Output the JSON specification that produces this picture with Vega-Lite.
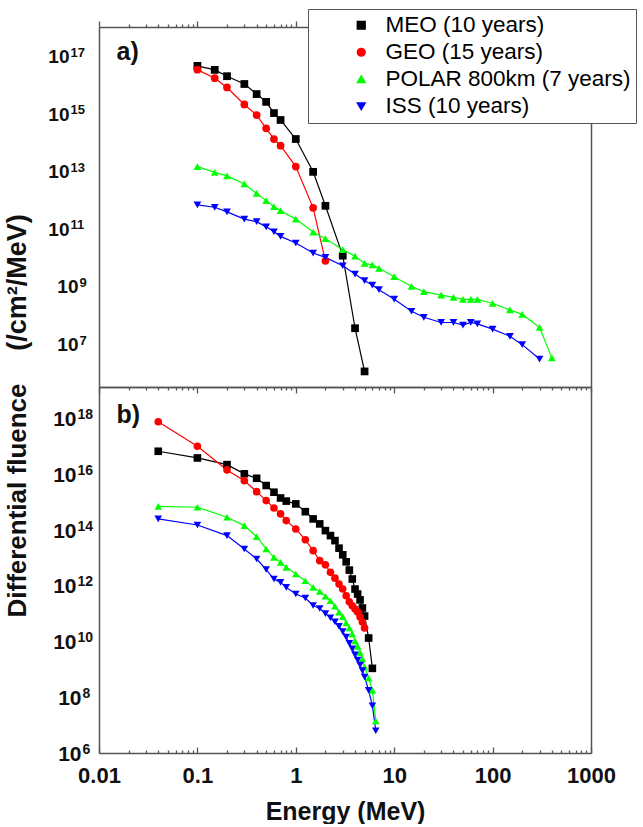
{
  "$schema": "https://vega.github.io/schema/vega-lite/v6.json",
  "background": "white",
  "padding": {"left": 3, "top": 8, "right": 0, "bottom": 0},
  "bounds": "flush",
  "spacing": 0,
  "resolve": {"scale": {"color": "independent", "shape": "independent"}, "legend": {"color": "independent", "shape": "independent"}},
  "config": {"view": {"stroke": null}, "font": "Liberation Sans"},
  "datasets": {
    "a": [
      {"s": "MEO", "E": 0.1, "F": 3.31e16}, {"s": "MEO", "E": 0.15, "F": 2.4e16}, {"s": "MEO", "E": 0.2, "F": 1.45e16}, {"s": "MEO", "E": 0.3, "F": 7.76e15}, {"s": "MEO", "E": 0.4, "F": 3.47e15}, {"s": "MEO", "E": 0.5, "F": 1.86e15}, {"s": "MEO", "E": 0.6, "F": 7.59e14}, {"s": "MEO", "E": 0.7, "F": 4.37e14}, {"s": "MEO", "E": 1, "F": 9.55e13}, {"s": "MEO", "E": 1.5, "F": 6.92e12}, {"s": "MEO", "E": 2, "F": 4.57e11}, {"s": "MEO", "E": 3, "F": 8.51e9}, {"s": "MEO", "E": 4, "F": 2.57e7}, {"s": "MEO", "E": 5, "F": 8.13e5},
      {"s": "GEO", "E": 0.1, "F": 2.45e16}, {"s": "GEO", "E": 0.15, "F": 1.23e16}, {"s": "GEO", "E": 0.2, "F": 5.89e15}, {"s": "GEO", "E": 0.3, "F": 1.51e15}, {"s": "GEO", "E": 0.4, "F": 6.46e14}, {"s": "GEO", "E": 0.5, "F": 2.24e14}, {"s": "GEO", "E": 0.6, "F": 9.55e13}, {"s": "GEO", "E": 0.7, "F": 5.62e13}, {"s": "GEO", "E": 1, "F": 1.05e13}, {"s": "GEO", "E": 1.5, "F": 3.89e11}, {"s": "GEO", "E": 2, "F": 5.62e9},
      {"s": "POLAR", "E": 0.1, "F": 1.05e13}, {"s": "POLAR", "E": 0.15, "F": 6.61e12}, {"s": "POLAR", "E": 0.2, "F": 5.01e12}, {"s": "POLAR", "E": 0.3, "F": 2.63e12}, {"s": "POLAR", "E": 0.4, "F": 1.23e12}, {"s": "POLAR", "E": 0.5, "F": 6.92e11}, {"s": "POLAR", "E": 0.6, "F": 4.27e11}, {"s": "POLAR", "E": 0.7, "F": 3.09e11}, {"s": "POLAR", "E": 1, "F": 1.58e11}, {"s": "POLAR", "E": 1.5, "F": 5.62e10}, {"s": "POLAR", "E": 2, "F": 3.31e10}, {"s": "POLAR", "E": 3, "F": 1.38e10}, {"s": "POLAR", "E": 4, "F": 8.13e9}, {"s": "POLAR", "E": 5, "F": 4.57e9}, {"s": "POLAR", "E": 6, "F": 4.07e9}, {"s": "POLAR", "E": 7, "F": 3.09e9}, {"s": "POLAR", "E": 10, "F": 1.58e9}, {"s": "POLAR", "E": 15, "F": 7.24e8}, {"s": "POLAR", "E": 20, "F": 4.79e8}, {"s": "POLAR", "E": 30, "F": 3.63e8}, {"s": "POLAR", "E": 40, "F": 3.02e8}, {"s": "POLAR", "E": 50, "F": 2.57e8}, {"s": "POLAR", "E": 60, "F": 2.57e8}, {"s": "POLAR", "E": 70, "F": 2.57e8}, {"s": "POLAR", "E": 100, "F": 1.86e8}, {"s": "POLAR", "E": 150, "F": 1.12e8}, {"s": "POLAR", "E": 200, "F": 7.76e7}, {"s": "POLAR", "E": 300, "F": 2.75e7}, {"s": "POLAR", "E": 400, "F": 2.4e6},
      {"s": "ISS", "E": 0.1, "F": 4.9e11}, {"s": "ISS", "E": 0.15, "F": 4.07e11}, {"s": "ISS", "E": 0.2, "F": 2.82e11}, {"s": "ISS", "E": 0.3, "F": 1.58e11}, {"s": "ISS", "E": 0.4, "F": 1.29e11}, {"s": "ISS", "E": 0.5, "F": 8.51e10}, {"s": "ISS", "E": 0.6, "F": 5.75e10}, {"s": "ISS", "E": 0.7, "F": 3.98e10}, {"s": "ISS", "E": 1, "F": 2.34e10}, {"s": "ISS", "E": 1.5, "F": 1.05e10}, {"s": "ISS", "E": 2, "F": 7.41e9}, {"s": "ISS", "E": 3, "F": 3.8e9}, {"s": "ISS", "E": 4, "F": 1.95e9}, {"s": "ISS", "E": 5, "F": 1.15e9}, {"s": "ISS", "E": 6, "F": 8.13e8}, {"s": "ISS", "E": 7, "F": 5.62e8}, {"s": "ISS", "E": 10, "F": 2.63e8}, {"s": "ISS", "E": 15, "F": 1.0e8}, {"s": "ISS", "E": 20, "F": 6.17e7}, {"s": "ISS", "E": 30, "F": 4.07e7}, {"s": "ISS", "E": 40, "F": 4.07e7}, {"s": "ISS", "E": 50, "F": 3.31e7}, {"s": "ISS", "E": 60, "F": 4.07e7}, {"s": "ISS", "E": 70, "F": 3.63e7}, {"s": "ISS", "E": 100, "F": 2.4e7}, {"s": "ISS", "E": 150, "F": 1.35e7}, {"s": "ISS", "E": 200, "F": 6.92e6}, {"s": "ISS", "E": 300, "F": 2.19e6}
    ],
    "b": [
      {"s": "MEO", "E": 0.04, "F": 6.92e16}, {"s": "MEO", "E": 0.1, "F": 3.98e16}, {"s": "MEO", "E": 0.2, "F": 2.29e16}, {"s": "MEO", "E": 0.3, "F": 1.07e16}, {"s": "MEO", "E": 0.4, "F": 7.41e15}, {"s": "MEO", "E": 0.5, "F": 4.07e15}, {"s": "MEO", "E": 0.6, "F": 2.34e15}, {"s": "MEO", "E": 0.7, "F": 1.45e15}, {"s": "MEO", "E": 0.8, "F": 1.12e15}, {"s": "MEO", "E": 1, "F": 8.91e14}, {"s": "MEO", "E": 1.25, "F": 4.68e14}, {"s": "MEO", "E": 1.5, "F": 2.57e14}, {"s": "MEO", "E": 1.75, "F": 1.7e14}, {"s": "MEO", "E": 2, "F": 9.77e13}, {"s": "MEO", "E": 2.25, "F": 6.46e13}, {"s": "MEO", "E": 2.5, "F": 4.27e13}, {"s": "MEO", "E": 2.75, "F": 2.29e13}, {"s": "MEO", "E": 3, "F": 1.32e13}, {"s": "MEO", "E": 3.25, "F": 7.41e12}, {"s": "MEO", "E": 3.5, "F": 3.72e12}, {"s": "MEO", "E": 3.75, "F": 1.78e12}, {"s": "MEO", "E": 4, "F": 7.76e11}, {"s": "MEO", "E": 4.25, "F": 5.13e11}, {"s": "MEO", "E": 4.5, "F": 3.16e11}, {"s": "MEO", "E": 4.75, "F": 1.62e11}, {"s": "MEO", "E": 5, "F": 8.32e10}, {"s": "MEO", "E": 5.5, "F": 1.35e10}, {"s": "MEO", "E": 6, "F": 1.1e9},
      {"s": "GEO", "E": 0.04, "F": 7.94e17}, {"s": "GEO", "E": 0.1, "F": 1.05e17}, {"s": "GEO", "E": 0.2, "F": 1.48e16}, {"s": "GEO", "E": 0.3, "F": 6.03e15}, {"s": "GEO", "E": 0.4, "F": 2.45e15}, {"s": "GEO", "E": 0.5, "F": 1.17e15}, {"s": "GEO", "E": 0.6, "F": 6.31e14}, {"s": "GEO", "E": 0.7, "F": 3.89e14}, {"s": "GEO", "E": 0.8, "F": 2.24e14}, {"s": "GEO", "E": 1, "F": 1.12e14}, {"s": "GEO", "E": 1.25, "F": 4.57e13}, {"s": "GEO", "E": 1.5, "F": 1.86e13}, {"s": "GEO", "E": 1.75, "F": 8.13e12}, {"s": "GEO", "E": 2, "F": 5.75e12}, {"s": "GEO", "E": 2.25, "F": 3.09e12}, {"s": "GEO", "E": 2.5, "F": 1.91e12}, {"s": "GEO", "E": 2.75, "F": 1.17e12}, {"s": "GEO", "E": 3, "F": 7.76e11}, {"s": "GEO", "E": 3.25, "F": 4.47e11}, {"s": "GEO", "E": 3.5, "F": 2.69e11}, {"s": "GEO", "E": 3.75, "F": 1.95e11}, {"s": "GEO", "E": 4, "F": 1.48e11}, {"s": "GEO", "E": 4.25, "F": 1.17e11}, {"s": "GEO", "E": 4.5, "F": 7.76e10}, {"s": "GEO", "E": 4.75, "F": 5.13e10}, {"s": "GEO", "E": 5, "F": 3.09e10},
      {"s": "POLAR", "E": 0.04, "F": 7.24e14}, {"s": "POLAR", "E": 0.1, "F": 6.76e14}, {"s": "POLAR", "E": 0.2, "F": 2.95e14}, {"s": "POLAR", "E": 0.3, "F": 1.48e14}, {"s": "POLAR", "E": 0.4, "F": 5.89e13}, {"s": "POLAR", "E": 0.5, "F": 2.14e13}, {"s": "POLAR", "E": 0.6, "F": 1.07e13}, {"s": "POLAR", "E": 0.7, "F": 7.08e12}, {"s": "POLAR", "E": 0.8, "F": 4.68e12}, {"s": "POLAR", "E": 1, "F": 2.69e12}, {"s": "POLAR", "E": 1.25, "F": 1.55e12}, {"s": "POLAR", "E": 1.5, "F": 8.91e11}, {"s": "POLAR", "E": 1.75, "F": 6.31e11}, {"s": "POLAR", "E": 2, "F": 4.27e11}, {"s": "POLAR", "E": 2.25, "F": 2.95e11}, {"s": "POLAR", "E": 2.5, "F": 1.86e11}, {"s": "POLAR", "E": 2.75, "F": 1.15e11}, {"s": "POLAR", "E": 3, "F": 7.94e10}, {"s": "POLAR", "E": 3.25, "F": 4.68e10}, {"s": "POLAR", "E": 3.5, "F": 3.09e10}, {"s": "POLAR", "E": 3.75, "F": 1.91e10}, {"s": "POLAR", "E": 4, "F": 1.05e10}, {"s": "POLAR", "E": 4.25, "F": 6.76e9}, {"s": "POLAR", "E": 4.5, "F": 4.07e9}, {"s": "POLAR", "E": 4.75, "F": 2.4e9}, {"s": "POLAR", "E": 5, "F": 1.23e9}, {"s": "POLAR", "E": 5.5, "F": 4.9e8}, {"s": "POLAR", "E": 6, "F": 1.78e8}, {"s": "POLAR", "E": 6.5, "F": 1.41e7},
      {"s": "ISS", "E": 0.04, "F": 2.57e14}, {"s": "ISS", "E": 0.1, "F": 1.55e14}, {"s": "ISS", "E": 0.2, "F": 6.46e13}, {"s": "ISS", "E": 0.3, "F": 2.14e13}, {"s": "ISS", "E": 0.4, "F": 9.33e12}, {"s": "ISS", "E": 0.5, "F": 3.89e12}, {"s": "ISS", "E": 0.6, "F": 1.78e12}, {"s": "ISS", "E": 0.7, "F": 1.35e12}, {"s": "ISS", "E": 0.8, "F": 8.91e11}, {"s": "ISS", "E": 1, "F": 5.13e11}, {"s": "ISS", "E": 1.25, "F": 3.72e11}, {"s": "ISS", "E": 1.5, "F": 2.0e11}, {"s": "ISS", "E": 1.75, "F": 1.55e11}, {"s": "ISS", "E": 2, "F": 1.02e11}, {"s": "ISS", "E": 2.25, "F": 7.24e10}, {"s": "ISS", "E": 2.5, "F": 5.13e10}, {"s": "ISS", "E": 2.75, "F": 3.55e10}, {"s": "ISS", "E": 3, "F": 2.29e10}, {"s": "ISS", "E": 3.25, "F": 1.45e10}, {"s": "ISS", "E": 3.5, "F": 8.71e9}, {"s": "ISS", "E": 3.75, "F": 5.5e9}, {"s": "ISS", "E": 4, "F": 3.39e9}, {"s": "ISS", "E": 4.25, "F": 2.19e9}, {"s": "ISS", "E": 4.5, "F": 1.45e9}, {"s": "ISS", "E": 4.75, "F": 9.12e8}, {"s": "ISS", "E": 5, "F": 5.37e8}, {"s": "ISS", "E": 5.5, "F": 1.78e8}, {"s": "ISS", "E": 6, "F": 5.01e7}, {"s": "ISS", "E": 6.5, "F": 6.31e6}
    ]
  },
  "vconcat": [
    {
      "width": 492,
      "height": 360,
      "data": {"name": "a"},
      "layer": [
        {
          "mark": {"type": "line", "strokeWidth": 1.2},
          "encoding": {
            "x": {"field": "E", "type": "quantitative", "scale": {"type": "log", "domain": [0.01, 1000], "nice": false},
              "axis": {"orient": "bottom", "title": null, "labels": false, "grid": false, "domainColor": "#555555", "domainWidth": 1.5, "tickColor": "#555555", "tickWidth": 1.3,
                "values": [0.01,0.02,0.03,0.04,0.05,0.06,0.07,0.08,0.09,0.1,0.2,0.3,0.4,0.5,0.6,0.7,0.8,0.9,1,2,3,4,5,6,7,8,9,10,20,30,40,50,60,70,80,90,100,200,300,400,500,600,700,800,900,1000],
                "tickSize": {"condition": {"test": "abs(log(datum.value)/LN10 - round(log(datum.value)/LN10)) < 0.001", "value": 6}, "value": 3}}},
            "y": {"field": "F", "type": "quantitative", "scale": {"type": "log", "domain": [2.34e5, 7.4e17], "nice": false},
              "axis": {"orient": "left", "grid": false, "ticks": false, "tickSize": 0, "domainColor": "#555555", "domainWidth": 1.5,
                "values": [1e7, 1e9, 1e11, 1e13, 1e15, 1e17],
                "labelExpr": "'10'",
                "labelFont": "Liberation Sans", "labelFontSize": 19, "labelFontWeight": "bold", "labelColor": "#111111", "labelAlign": "right", "labelOverlap": false, "labelOffset": 4.5,
                "labelPadding": {"condition": {"test": "datum.value >= 1e10", "value": 30}, "value": 21},
                "title": "(/cm²/MeV)", "titleFont": "Liberation Sans", "titleFontSize": 27, "titleFontWeight": "bold", "titleColor": "#111111", "titleAngle": -90, "titleAlign": "center", "titleBaseline": "alphabetic", "titleX": -74, "titleY": 255}},
            "color": {"field": "s", "type": "nominal", "scale": {"domain": ["MEO", "GEO", "POLAR", "ISS"], "range": ["#000000", "#ff0000", "#00ff00", "#0000ff"]},
              "legend": {
                "orient": "none", "legendX": 209, "legendY": -18, "title": null,
                "labelFont": "Liberation Sans", "labelFontSize": 22.5, "labelColor": "#000000", "labelLimit": 400,
                "labelExpr": "datum.value == 'MEO' ? '\u00a0MEO (10 years)' : datum.value == 'GEO' ? 'GEO (15 years)' : datum.value == 'POLAR' ? 'POLAR 800km (7 years)' : 'ISS (10 years)'",
                "symbolSize": 60, "symbolOffset": 37, "labelOffset": 13, "rowPadding": 4, "padding": 5,
                "strokeColor": "#555555", "fillColor": "#ffffff"
              }}
          }
        },
        {
          "mark": {"type": "point", "opacity": 0},
          "encoding": {
            "x": {"field": "E", "type": "quantitative", "scale": {"type": "log", "domain": [0.01, 1000], "nice": false}, "axis": null},
            "y": {"field": "F", "type": "quantitative", "scale": {"type": "log", "domain": [2.34e5, 7.4e17], "nice": false},
              "axis": {"orient": "left", "title": null, "grid": false, "ticks": false, "tickSize": 0, "domain": false,
                "values": [1e7, 1e9, 1e11, 1e13, 1e15, 1e17],
                "labelExpr": "'' + round(log(datum.value)/LN10)",
                "labelFont": "Liberation Sans", "labelFontSize": 13, "labelFontWeight": "bold", "labelColor": "#111111", "labelAlign": "left", "labelOverlap": false, "labelOffset": 0,
                "labelPadding": {"condition": {"test": "datum.value >= 1e10", "value": 29}, "value": 20}}}
          }
        },
        {
          "mark": {"type": "point", "filled": true, "opacity": 1, "size": 60},
          "encoding": {
            "x": {"field": "E", "type": "quantitative", "scale": {"type": "log", "domain": [0.01, 1000], "nice": false},
              "axis": {"orient": "top", "grid": false, "labels": false, "domainColor": "#555555", "domainWidth": 1.5, "tickColor": "#555555", "tickWidth": 1.3,
                "values": [0.01,0.02,0.03,0.04,0.05,0.06,0.07,0.08,0.09,0.1,0.2,0.3,0.4,0.5,0.6,0.7,0.8,0.9,1,2,3,4,5,6,7,8,9,10,20,30,40,50,60,70,80,90,100,200,300,400,500,600,700,800,900,1000],
                "tickSize": {"condition": {"test": "abs(log(datum.value)/LN10 - round(log(datum.value)/LN10)) < 0.001", "value": 6}, "value": 3},
                "title": "a)", "titleFont": "Liberation Sans", "titleFontSize": 25, "titleFontWeight": "bold", "titleColor": "#111111", "titleAngle": 0, "titleAlign": "left", "titleBaseline": "alphabetic", "titleX": 17, "titleY": 32}},
            "y": {"field": "F", "type": "quantitative", "scale": {"type": "log", "domain": [2.34e5, 7.4e17], "nice": false},
              "axis": {"orient": "right", "title": null, "labels": false, "ticks": false, "grid": false, "domainColor": "#555555", "domainWidth": 1.5}},
            "color": {"field": "s", "type": "nominal", "scale": {"domain": ["MEO", "GEO", "POLAR", "ISS"], "range": ["#000000", "#ff0000", "#00ff00", "#0000ff"]}},
            "shape": {"field": "s", "type": "nominal", "scale": {"domain": ["MEO", "GEO", "POLAR", "ISS"], "range": ["square", "circle", "triangle-up", "triangle-down"]}, "legend": null}
          }
        }
      ],
      "resolve": {"axis": {"x": "independent", "y": "independent"}}
    },
    {
      "width": 492,
      "height": 366,
      "data": {"name": "b"},
      "layer": [
        {
          "mark": {"type": "line", "strokeWidth": 1.2},
          "encoding": {
            "x": {"field": "E", "type": "quantitative", "scale": {"type": "log", "domain": [0.01, 1000], "nice": false},
              "axis": {"orient": "bottom", "grid": false, "domainColor": "#555555", "domainWidth": 1.5, "tickColor": "#555555", "tickWidth": 1.3,
                "values": [0.01,0.02,0.03,0.04,0.05,0.06,0.07,0.08,0.09,0.1,0.2,0.3,0.4,0.5,0.6,0.7,0.8,0.9,1,2,3,4,5,6,7,8,9,10,20,30,40,50,60,70,80,90,100,200,300,400,500,600,700,800,900,1000],
                "tickSize": {"condition": {"test": "abs(log(datum.value)/LN10 - round(log(datum.value)/LN10)) < 0.001", "value": -6}, "value": -3},
                "labelExpr": "abs(log(datum.value)/LN10 - round(log(datum.value)/LN10)) < 0.001 ? (datum.value >= 1 ? format(datum.value, 'd') : format(datum.value, '.2~f')) : ''",
                "labelFont": "Liberation Sans", "labelFontSize": 22, "labelFontWeight": "bold", "labelColor": "#111111", "labelPadding": 18, "labelOverlap": false, "labelFlush": false, "labelBound": false,
                "title": "Energy (MeV)", "titleFont": "Liberation Sans", "titleFontSize": 25, "titleFontWeight": "bold", "titleColor": "#111111", "titlePadding": 10}},
            "y": {"field": "F", "type": "quantitative", "scale": {"type": "log", "domain": [1e6, 1.41e19], "nice": false},
              "axis": {"orient": "left", "grid": false, "ticks": false, "tickSize": 0, "domainColor": "#555555", "domainWidth": 1.5,
                "values": [1e6, 1e8, 1e10, 1e12, 1e14, 1e16, 1e18],
                "labelExpr": "'10'",
                "labelFont": "Liberation Sans", "labelFontSize": 21, "labelFontWeight": "bold", "labelColor": "#111111", "labelAlign": "right", "labelOverlap": false, "labelOffset": 1,
                "labelPadding": {"condition": {"test": "datum.value >= 1e10", "value": 23}, "value": 18},
                "title": "Differential fluence", "titleFont": "Liberation Sans", "titleFontSize": 26, "titleFontWeight": "bold", "titleColor": "#111111", "titleAngle": -90, "titleAlign": "center", "titleBaseline": "alphabetic", "titleX": -74, "titleY": 113}},
            "color": {"field": "s", "type": "nominal", "scale": {"domain": ["MEO", "GEO", "POLAR", "ISS"], "range": ["#000000", "#ff0000", "#00ff00", "#0000ff"]}, "legend": null}
          }
        },
        {
          "mark": {"type": "point", "opacity": 0},
          "encoding": {
            "x": {"field": "E", "type": "quantitative", "scale": {"type": "log", "domain": [0.01, 1000], "nice": false}, "axis": null},
            "y": {"field": "F", "type": "quantitative", "scale": {"type": "log", "domain": [1e6, 1.41e19], "nice": false},
              "axis": {"orient": "left", "title": null, "grid": false, "ticks": false, "tickSize": 0, "domain": false,
                "values": [1e6, 1e8, 1e10, 1e12, 1e14, 1e16, 1e18],
                "labelExpr": "'' + round(log(datum.value)/LN10)",
                "labelFont": "Liberation Sans", "labelFontSize": 14, "labelFontWeight": "bold", "labelColor": "#111111", "labelAlign": "left", "labelOverlap": false, "labelOffset": -4,
                "labelPadding": {"condition": {"test": "datum.value >= 1e10", "value": 22}, "value": 17}}}
          }
        },
        {
          "mark": {"type": "point", "filled": true, "opacity": 1, "size": 58},
          "encoding": {
            "x": {"field": "E", "type": "quantitative", "scale": {"type": "log", "domain": [0.01, 1000], "nice": false},
              "axis": {"orient": "top", "labels": false, "ticks": false, "grid": false, "domainColor": "#555555", "domainWidth": 1.5,
                "title": "b)", "titleFont": "Liberation Sans", "titleFontSize": 25, "titleFontWeight": "bold", "titleColor": "#111111", "titleAngle": 0, "titleAlign": "left", "titleBaseline": "alphabetic", "titleX": 17, "titleY": 35}},
            "y": {"field": "F", "type": "quantitative", "scale": {"type": "log", "domain": [1e6, 1.41e19], "nice": false},
              "axis": {"orient": "right", "title": null, "labels": false, "ticks": false, "grid": false, "domainColor": "#555555", "domainWidth": 1.5}},
            "color": {"field": "s", "type": "nominal", "scale": {"domain": ["MEO", "GEO", "POLAR", "ISS"], "range": ["#000000", "#ff0000", "#00ff00", "#0000ff"]}, "legend": null},
            "shape": {"field": "s", "type": "nominal", "scale": {"domain": ["MEO", "GEO", "POLAR", "ISS"], "range": ["square", "circle", "triangle-up", "triangle-down"]}, "legend": null}
          }
        }
      ],
      "resolve": {"axis": {"x": "independent", "y": "independent"}}
    }
  ]
}
